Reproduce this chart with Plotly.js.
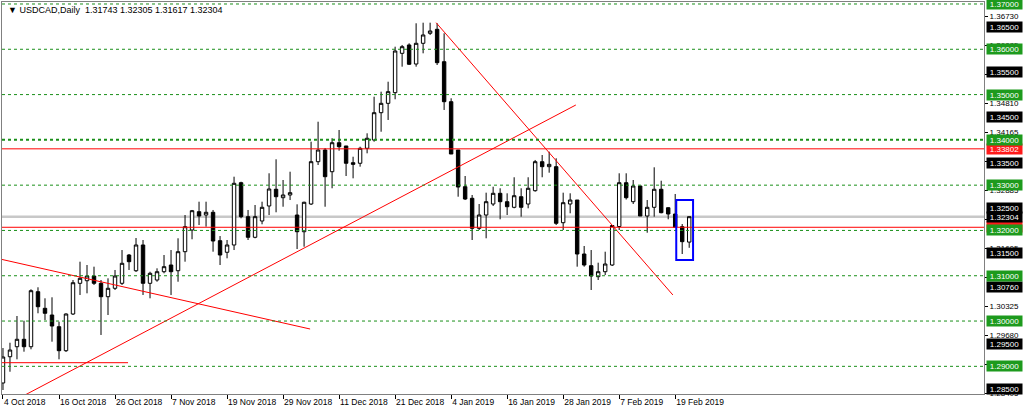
<!DOCTYPE html>
<html><head><meta charset="utf-8">
<script src="https://cdn.plot.ly/plotly-3.0.1.min.js"></script>
<style>html,body{margin:0;padding:0;background:#fff;overflow:hidden}#chart{width:1024px;height:413px}</style>
</head><body><div id="chart"></div>
<script>
// ---- data ----
const openP = [1.28632,1.29212,1.29433,1.29597,1.29433,1.30648,1.30281,1.30133,1.29875,1.29345,
1.30155,1.30833,1.30890,1.30994,1.30833,1.30537,1.30723,1.30833,1.31458,1.31111,
1.31679,1.30833,1.30906,1.31089,1.31237,1.31111,1.31531,1.32010,1.32414,1.32341,
1.32401,1.31774,1.31518,1.31679,1.33054,1.32304,1.31849,1.32209,1.32540,1.32909,
1.32723,1.32783,1.32341,1.31972,1.32584,1.33518,1.33776,1.33297,1.33937,1.33865,
1.33496,1.33483,1.33814,1.33997,1.34600,1.34807,1.35042,1.35911,1.36095,1.35675,
1.36132,1.36353,1.36441,1.35726,1.34843,1.33776,1.32966,1.32710,1.32047,1.32341,
1.32584,1.32820,1.32635,1.32511,1.32745,1.32584,1.32878,1.33518,1.33408,1.33408,
1.32171,1.32584,1.32672,1.31480,1.31222,1.30979,1.31089,1.31237,1.32087,1.33054,
1.32635,1.32981,1.32319,1.32511,1.32909,1.32502,1.32363,1.32083,1.31743];
const highP = [1.29404,1.29521,1.30111,1.30007,1.30701,1.30745,1.30502,1.30524,1.29985,1.30170,
1.30906,1.31310,1.31237,1.31200,1.30906,1.30943,1.31127,1.31568,1.31480,1.31833,
1.31789,1.31089,1.31164,1.31458,1.31568,1.31827,1.32341,1.32452,1.32635,1.32635,
1.32452,1.31877,1.31789,1.33187,1.33076,1.32452,1.32562,1.32635,1.33262,1.33571,
1.33114,1.33297,1.32577,1.32635,1.33960,1.34401,1.33820,1.34035,1.34218,1.33865,
1.33628,1.33849,1.34145,1.34953,1.35064,1.35284,1.36057,1.36095,1.36132,1.36574,
1.36587,1.36587,1.36574,1.36353,1.34918,1.33776,1.33202,1.32783,1.32584,1.32834,
1.32966,1.32931,1.32820,1.33174,1.32931,1.33174,1.33556,1.33666,1.33739,1.33593,
1.32834,1.32820,1.32672,1.31657,1.31568,1.31288,1.31531,1.32120,1.33262,1.33262,
1.33114,1.32981,1.32672,1.33394,1.33098,1.32511,1.32805,1.32142,1.32305];
const lowP = [1.28477,1.28881,1.29155,1.29323,1.29376,1.30171,1.30023,1.29544,1.29155,1.29316,
1.30133,1.30575,1.30612,1.30796,1.29692,1.30133,1.30685,1.30796,1.31127,1.31083,
1.30575,1.30502,1.30868,1.31054,1.30575,1.30868,1.31310,1.31805,1.32120,1.32083,
1.31531,1.31237,1.31385,1.31568,1.32268,1.31789,1.31827,1.32136,1.32341,1.32401,
1.32524,1.32672,1.31590,1.31641,1.32562,1.33445,1.32524,1.32931,1.33761,1.33202,
1.33151,1.33408,1.33703,1.33960,1.34180,1.34439,1.34896,1.35616,1.35653,1.35616,
1.35911,1.36316,1.35653,1.34660,1.33688,1.32745,1.32672,1.31789,1.32010,1.31827,
1.32540,1.32246,1.32341,1.32489,1.32304,1.32489,1.32856,1.33174,1.33275,1.32120,
1.32010,1.32379,1.31200,1.31200,1.30685,1.30906,1.31016,1.31215,1.32010,1.32683,
1.32584,1.32319,1.31950,1.32304,1.32379,1.32246,1.32070,1.31480,1.31617];
const closeP = [1.29206,1.29360,1.29597,1.29433,1.30670,1.30316,1.30171,1.29890,1.29345,1.30155,
1.30846,1.30943,1.30994,1.30833,1.30537,1.30723,1.30994,1.31275,1.31310,1.31679,
1.30833,1.31054,1.31089,1.31200,1.31089,1.31531,1.32083,1.32436,1.32319,1.32401,
1.31767,1.31458,1.31679,1.33041,1.32304,1.31849,1.32304,1.32511,1.32915,1.32745,
1.32783,1.32834,1.31972,1.32622,1.33518,1.33776,1.33187,1.33937,1.33849,1.33483,
1.33460,1.33814,1.34035,1.34600,1.34807,1.35064,1.35962,1.36057,1.35669,1.36132,
1.36316,1.36404,1.35704,1.34843,1.33688,1.32959,1.32694,1.32047,1.32341,1.32635,
1.32820,1.32635,1.32524,1.32767,1.32511,1.32931,1.33518,1.33408,1.33460,1.32158,
1.32613,1.32672,1.31480,1.31237,1.30994,1.31089,1.31259,1.32109,1.33054,1.32723,
1.32981,1.32319,1.32511,1.32909,1.32392,1.32363,1.32070,1.31752,1.32304];

const tickBars   = [0,8,16,24,32,40,48,56,64,72,80,88,96];
const tickLabels = ["4 Oct 2018","16 Oct 2018","26 Oct 2018","7 Nov 2018","19 Nov 2018","29 Nov 2018",
                    "11 Dec 2018","21 Dec 2018","4 Jan 2019","16 Jan 2019","28 Jan 2019","7 Feb 2019","19 Feb 2019"];

const scaleLabels = [1.36730,1.36085,1.35450,1.34810,1.34165,1.33525,1.32885,1.32245,1.31605,1.30965,1.30325,1.29680,1.29040,1.28405];
const greenLevels = [1.37,1.36,1.35,1.34,1.33,1.32,1.31,1.30,1.29];
const blackLevels = [1.365,1.355,1.345,1.335,1.325,1.315,1.3076,1.295,1.285];
const redLevels   = [1.33802,1.32070];
const bidPrice    = 1.32304;

// drawn objects (bar index, price)
const trendA_x = [-0.43, 43.86], trendA_y = [1.31370, 1.29824];
const trendB_x = [-0.40, 17.86], trendB_y = [1.29080, 1.29080];
const trendC_x = [3.14, 81.81],  trendC_y = [1.28367, 1.34770];
const trendD_x = [61.86, 95.67], trendD_y = [1.36587, 1.30575];
const boxX = [96.15, 98.55], boxY = [1.31347, 1.32672];

const header = "\u25BC USDCAD,Daily  1.31743 1.32305 1.31617 1.32304";

// ---- chart ----
const FONT = "Liberation Sans, Arial, sans-serif";
const bars = openP.map((_, i) => i);

const traces = [{
  type: 'candlestick', x: bars, open: openP, high: highP, low: lowP, close: closeP,
  increasing: {line: {color: '#000', width: 1}, fillcolor: '#fff'},
  decreasing: {line: {color: '#000', width: 1}, fillcolor: '#000'},
  whiskerwidth: 0, hoverinfo: 'skip', showlegend: false
}];
[[trendA_x,trendA_y],[trendB_x,trendB_y],[trendC_x,trendC_y],[trendD_x,trendD_y]].forEach(([x,y]) => {
  traces.push({type:'scatter', mode:'lines', x:x, y:y, line:{color:'#ff0000', width:1}, hoverinfo:'skip', showlegend:false});
});

const shapes = [];
shapes.push({type:'line', xref:'paper', x0:0, x1:1, yref:'y', y0:bidPrice, y1:bidPrice, line:{color:'#c8c8c8', width:2.5}, layer:'below'});
greenLevels.forEach(v => shapes.push({type:'line', xref:'paper', x0:0, x1:1, yref:'y', y0:v, y1:v,
  line:{color:'#1a8f1a', width: v === 1.34 ? 2 : 1, dash:'3px,3px'}, layer:'above'}));
redLevels.forEach(v => shapes.push({type:'line', xref:'paper', x0:0, x1:1, yref:'y', y0:v, y1:v,
  line:{color:'#ff0000', width:1}, layer:'above'}));
shapes.push({type:'rect', xref:'x', yref:'y', x0:boxX[0], x1:boxX[1], y0:boxY[0], y1:boxY[1],
  line:{color:'#0000ff', width:2}, fillcolor:'rgba(0,0,0,0)', layer:'above'});

function label(v, bg) {
  return {xref:'paper', yref:'y', x:1.0025, y:v, xanchor:'left', yanchor:'middle', text:v.toFixed(5),
    showarrow:false, bgcolor:bg, font:{color:'#fff', size:8, family:FONT}, width:33, height:8, borderpad:1, align:'center'};
}
const annotations = [];
redLevels.forEach(v => annotations.push(label(v, '#ff1a1a')));
blackLevels.forEach(v => annotations.push(label(v, '#000000')));
annotations.push(label(bidPrice, '#000000'));
greenLevels.forEach(v => annotations.push(label(v, '#1d9a1d')));
annotations.push({xref:'paper', yref:'paper', x:0.004, y:0.98, xanchor:'left', yanchor:'middle', text:header,
  showarrow:false, font:{color:'#000', size:9, family:FONT}});

const layout = {
  width: 1024, height: 413,
  margin: {l: 2, r: 40, t: 2, b: 19, pad: 0},
  paper_bgcolor: '#fff', plot_bgcolor: '#fff',
  font: {family: FONT, size: 8, color: '#000'},
  showlegend: false,
  xaxis: {range: [-0.14, 140.1], rangeslider: {visible: false}, showgrid: false, zeroline: false,
    showline: true, mirror: true, linecolor: '#808080', linewidth: 1,
    tickmode: 'array', tickvals: tickBars, ticktext: tickLabels, ticks: 'outside', ticklen: 4, tickcolor: '#000',
    tickangle: 0, ticklabelposition: 'outside right', tickfont: {size: 8.5, family: FONT, color: '#000'}},
  yaxis: {range: [1.28389, 1.37044], side: 'right', showgrid: false, zeroline: false,
    showline: true, mirror: true, linecolor: '#808080', linewidth: 1,
    tickmode: 'array', tickvals: scaleLabels, ticktext: scaleLabels.map(v => v.toFixed(5)),
    ticks: 'outside', ticklen: 3, tickcolor: '#000', tickfont: {size: 8, family: FONT, color: '#000'}},
  shapes: shapes, annotations: annotations
};
Plotly.newPlot('chart', traces, layout, {staticPlot: true, displayModeBar: false});
</script></body></html>
